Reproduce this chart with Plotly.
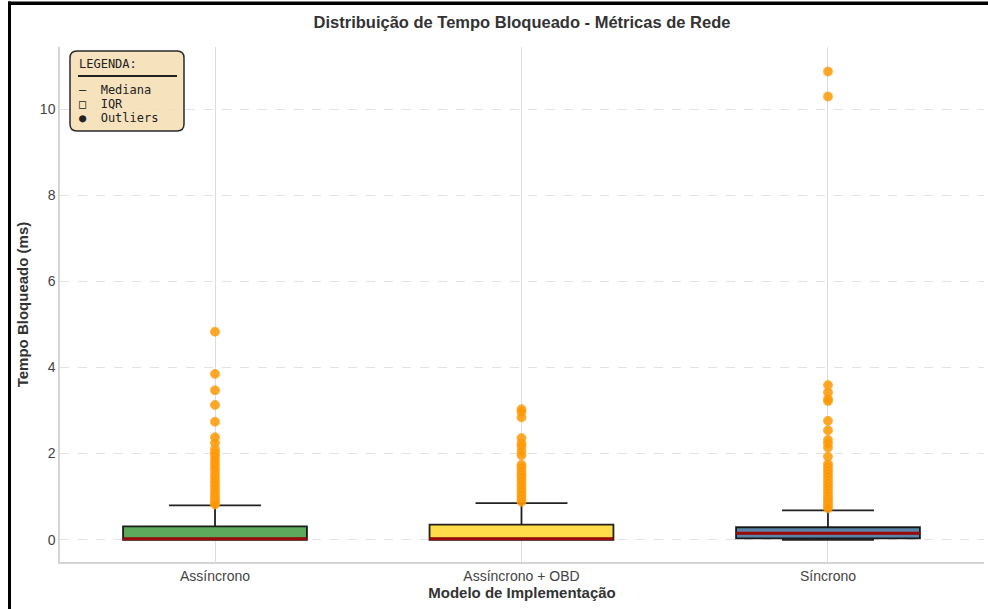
import plotly.graph_objects as go

# ---- data -----------------------------------------------------------------
categories = ["Assíncrono", "Assíncrono + OBD", "Síncrono"]
box_colors = ["#5DAA5D", "#FFDD4A", "#5B84A8"]

q1 = [0.00, 0.00, 0.03]
median = [0.02, 0.02, 0.15]
q3 = [0.31, 0.35, 0.29]
lower_fence = [0.00, 0.00, 0.00]
upper_fence = [0.80, 0.85, 0.68]

outliers_async = [4.83, 3.85, 3.47, 3.13, 2.74, 2.38, 2.25, 2.10, 2.02, 1.95,
                  1.86, 1.78, 1.70, 1.62, 1.52, 1.44, 1.36, 1.28, 1.20, 1.12,
                  1.05, 0.98, 0.92, 0.86, 0.82]
outliers_obd = [3.03, 2.97, 2.84, 2.36, 2.24, 2.17, 2.06, 1.96, 1.74, 1.68,
                1.60, 1.52, 1.45, 1.37, 1.28, 1.20, 1.12, 1.04, 0.96, 0.88]
outliers_sync = [10.87, 10.29, 3.59, 3.42, 3.27, 3.22, 2.76, 2.54, 2.32, 2.24,
                 2.14, 1.93, 1.76, 1.70, 1.62, 1.55, 1.48, 1.40, 1.32, 1.25,
                 1.18, 1.10, 1.03, 0.96, 0.90, 0.84, 0.78, 0.73]
outliers = [outliers_async, outliers_obd, outliers_sync]

y_ticks = [0, 2, 4, 6, 8, 10]

title = "Distribuição de Tempo Bloqueado - Métricas de Rede"
x_title = "Modelo de Implementação"
y_title = "Tempo Bloqueado (ms)"
legend_head = "LEGENDA:"
legend_items = ["—  Mediana", "□  IQR", "●  Outliers"]

# ---- layout geometry --------------------------------------------------------
W, H = 988, 609
ML, MR, MT, MB = 60, 4, 47, 47
PW, PH = W - ML - MR, H - MT - MB
BOX_W = 0.6


def px(x):
    return (x - ML) / PW


def py(y):
    return (H - MB - y) / PH


fig = go.Figure()

for i, cat in enumerate(categories):
    fig.add_trace(go.Box(
        x=[i], q1=[q1[i]], median=[median[i]], q3=[q3[i]],
        lowerfence=[lower_fence[i]], upperfence=[upper_fence[i]],
        width=BOX_W, whiskerwidth=0.5, boxpoints=False,
        fillcolor=box_colors[i],
        line=dict(color="rgba(10,10,10,0.9)", width=1.8),
        showlegend=False, name=cat,
    ))

# median bars drawn over the boxes
mx, my = [], []
for i, m in enumerate(median):
    mx += [i - BOX_W / 2, i + BOX_W / 2, None]
    my += [m, m, None]
fig.add_trace(go.Scatter(x=mx, y=my, mode="lines",
                         line=dict(color="#9B0A0A", width=3),
                         showlegend=False, hoverinfo="skip"))

# outlier points
for i, vals in enumerate(outliers):
    fig.add_trace(go.Scatter(
        x=[i] * len(vals), y=vals, mode="markers",
        marker=dict(color="rgba(255,152,0,0.85)", size=9,
                    line=dict(color="rgba(255,165,40,0.9)", width=0.8)),
        showlegend=False,
    ))

# legend panel (rounded box)
x0, x1, y0, y1, r = 70, 184, 51, 131, 7
rx, ry = r / PW, r / PH
X0, X1, Y0, Y1 = px(x0), px(x1), py(y1), py(y0)
path = (f"M {X0+rx},{Y0} L {X1-rx},{Y0} Q {X1},{Y0} {X1},{Y0+ry} "
        f"L {X1},{Y1-ry} Q {X1},{Y1} {X1-rx},{Y1} L {X0+rx},{Y1} "
        f"Q {X0},{Y1} {X0},{Y1-ry} L {X0},{Y0+ry} Q {X0},{Y0} {X0+rx},{Y0} Z")
shapes = [dict(type="path", xref="paper", yref="paper", path=path,
               fillcolor="rgba(245,222,179,0.85)",
               line=dict(color="#2a2a2a", width=1.5), layer="above")]
# rule under the panel heading
shapes.append(dict(type="line", xref="paper", yref="paper",
                   x0=px(78), x1=px(177), y0=py(76), y1=py(76),
                   line=dict(color="#222", width=2), layer="above"))

# outer frame lines
shapes.append(dict(type="rect", xref="paper", yref="paper",
                   x0=px(8), x1=px(W + 5), y0=py(5), y1=py(1.5),
                   fillcolor="black", line=dict(width=0)))
shapes.append(dict(type="rect", xref="paper", yref="paper",
                   x0=px(8), x1=px(11), y0=py(H + 5), y1=py(1.5),
                   fillcolor="black", line=dict(width=0)))

annotations = []
for txt, yy in zip([legend_head] + legend_items, [64, 90, 104, 118]):
    annotations.append(dict(
        text=txt, xref="paper", yref="paper", x=px(77), y=py(yy),
        xanchor="left", yanchor="middle", showarrow=False,
        font=dict(family="DejaVu Sans Mono", size=12, color="#222")))

fig.update_layout(
    width=W, height=H,
    margin=dict(l=ML, r=MR, t=MT, b=MB),
    paper_bgcolor="white", plot_bgcolor="white",
    font=dict(family="Liberation Sans, Arial, sans-serif", color="#333"),
    title=dict(text=f"<b>{title}</b>", xref="paper", x=px(522),
               xanchor="center", yref="container",
               y=1 - 22 / H, yanchor="middle",
               font=dict(size=16.5, color="#333")),
    shapes=shapes, annotations=annotations,
)

fig.update_xaxes(
    range=[-0.5057, 2.509], tickvals=[0, 1, 2], ticktext=categories,
    showgrid=True, gridcolor="#dcdcdc", gridwidth=1,
    showline=True, linecolor="#d4d4d4", linewidth=1.5,
    zeroline=False, ticks="", tickfont=dict(size=14, color="#444"),
    title=dict(text=f"<b>{x_title}</b>", font=dict(size=15, color="#333"),
               standoff=4),
)
fig.update_yaxes(
    range=[-0.517, 11.44], tickvals=y_ticks,
    showgrid=True, gridcolor="#e2e2e2", gridwidth=1, griddash="dash",
    showline=True, linecolor="#d4d4d4", linewidth=1.5,
    zeroline=False, ticks="", tickfont=dict(size=14, color="#444"),
    title=dict(text=f"<b>{y_title}</b>", font=dict(size=15, color="#333"),
               standoff=8),
)

fig.write_html("out.html")
